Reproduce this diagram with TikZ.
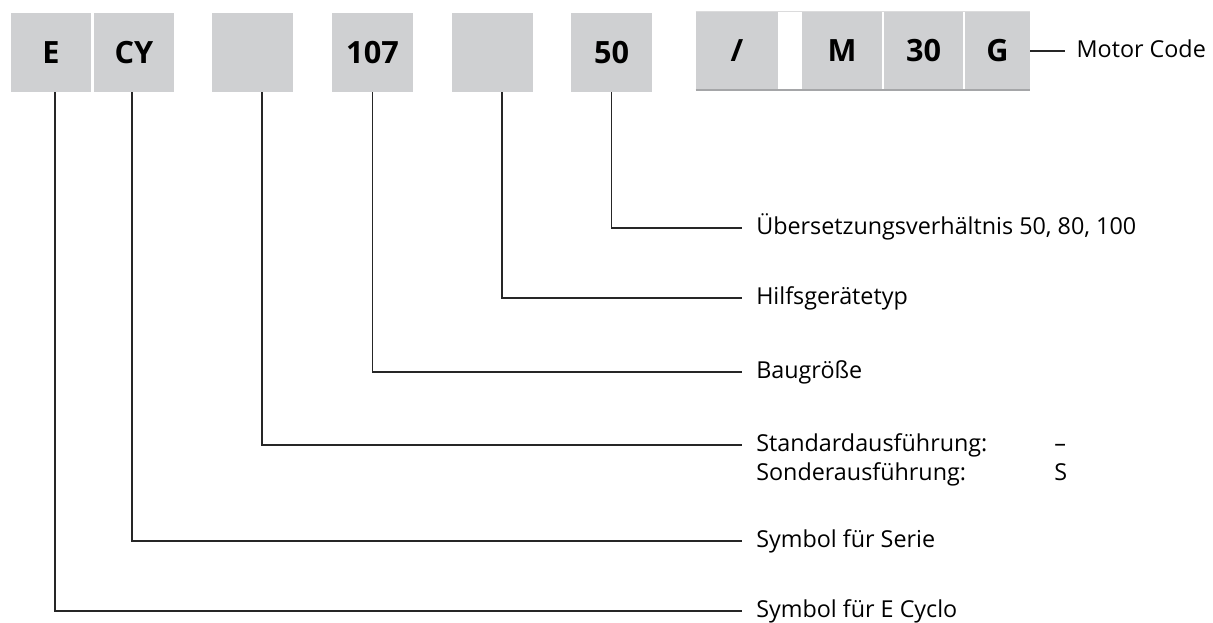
\documentclass[tikz,border=0pt]{standalone}
\usepackage{fontspec}
\setmainfont{Open Sans}
\usetikzlibrary{positioning}
\definecolor{cellgray}{RGB}{207,208,210}
\definecolor{rulegray}{RGB}{165,166,168}

\begin{document}
\begin{tikzpicture}[
  x=0.75pt, y=-0.75pt,
  font=\fontsize{17.5}{20}\selectfont,
  cell/.style={fill=cellgray, inner sep=0pt, minimum width=60pt,
               minimum height=59.25pt, font=\bfseries\fontsize{23}{23}\selectfont},
  mcell/.style={cell, minimum height=58.5pt},
  lbl/.style={anchor=west, inner xsep=10.5pt, inner ysep=0pt,
              text height=12.5pt, text depth=3pt},
  val/.style={anchor=west, inner sep=0pt, text height=12.5pt, text depth=3pt},
  conn/.style={draw=black!85, line width=0.8pt},
]
\useasboundingbox (0,0) rectangle (1213,623);

% Typenschluessel oben
\node[cell] (e)  at (51,52.5)  {E};
\node[cell] (cy) at (134,52.5) {CY};
\node[cell, minimum width=60.75pt] (b3)   at (252.5,52.5) {};
\node[cell, minimum width=60.75pt] (n107) at (372.5,52.5) {107};
\node[cell, minimum width=60.75pt] (b5)   at (492.5,52.5) {};
\node[cell, minimum width=60.75pt] (n50)  at (611.5,52.5) {50};

% Motorteil
\node[mcell, minimum width=61.5pt]  (slash) at (737,51)   {/};
\node[mcell]                        (m)     at (842,51)   {M};
\node[mcell, minimum width=59.25pt] (n30)   at (923.5,51) {30};
\node[mcell, minimum width=48.75pt] (g)     at (997.5,51) {G};
\draw[rulegray!40, line width=0.6pt] (slash.north west) -- (g.north east);
\draw[rulegray, line width=1.2pt] (slash.south west) -- (g.south east);

\node[lbl, inner xsep=8.5pt] (mc) at (1065,51) {Motor Code};
\draw[conn] (g.east) -- (mc.west);

% Beschriftungen rechts
\node[lbl] (ueb)   at (742,228) {Übersetzungsverhältnis 50, 80, 100};
\node[lbl] (hilf)  at (742,298) {Hilfsgerätetyp};
\node[lbl] (bau)   at (742,372) {Baugröße};
\node[lbl] (std)   at (742,445) {Standardausführung:};
\node[lbl] (sond)  at (742,474) {Sonderausführung:};
\node[val] (vstd)  at (1054,445) {–};
\node[val] (vsond) at (1054,474) {S};
\node[lbl] (serie) at (742,541) {Symbol für Serie};
\node[lbl] (cyclo) at (742,611) {Symbol für E Cyclo};

% Verbindungslinien
\draw[conn] (n50.south) |- (ueb.west);
\draw[conn] ([xshift=7.1pt]b5.south) |- (hilf.west);
\draw[conn] (n107.south) |- (bau.west);
\draw[conn] ([xshift=7.1pt]b3.south) |- (std.west);
\draw[conn] ([xshift=-1.5pt]cy.south) |- (serie.west);
\draw[conn] ([xshift=3pt]e.south) |- (cyclo.west);
\end{tikzpicture}
\end{document}
